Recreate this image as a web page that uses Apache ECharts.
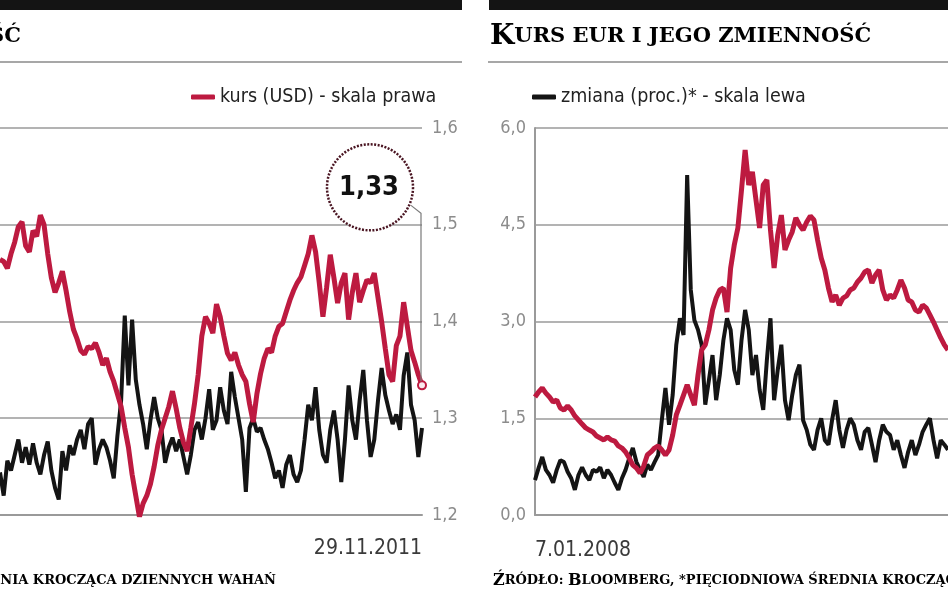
<!DOCTYPE html>
<html><head><meta charset="utf-8">
<script src="https://cdn.jsdelivr.net/npm/echarts@6/dist/echarts.min.js"></script>
<style>html,body{margin:0;padding:0;background:#fff}#c{width:948px;height:593px}</style>
</head><body><div id="c"></div>
<script>
// ---- data (weekly readings) ----
const leftEnd = [2011, 10, 29];   // 29.11.2011 (last category, left chart)
const rightStart = [2008, 0, 7];  // 7.01.2008 (first category, right chart)

// EUR/USD rate (right scale of the left chart)
const usdRate = [1.464,1.462,1.455,1.470,1.482,1.498,1.503,1.478,1.472,1.494,
 1.488,1.510,1.500,1.470,1.445,1.430,1.440,1.452,1.432,1.410,
 1.392,1.382,1.370,1.366,1.374,1.372,1.378,1.368,1.355,1.362,
 1.348,1.338,1.325,1.312,1.290,1.270,1.242,1.220,1.198,1.212,
 1.220,1.232,1.250,1.272,1.288,1.300,1.312,1.328,1.310,1.290,
 1.275,1.266,1.290,1.315,1.345,1.385,1.405,1.398,1.388,1.418,
 1.405,1.385,1.367,1.360,1.368,1.355,1.345,1.338,1.315,1.296,
 1.325,1.346,1.362,1.372,1.368,1.385,1.395,1.398,1.410,1.422,
 1.432,1.440,1.446,1.458,1.470,1.489,1.472,1.440,1.405,1.435,
 1.469,1.445,1.419,1.440,1.450,1.402,1.430,1.450,1.420,1.432,
 1.443,1.440,1.450,1.425,1.400,1.372,1.345,1.338,1.375,1.385,
 1.420,1.395,1.370,1.358,1.345,1.334];
// EUR/USD volatility (left scale of the left chart, not visible)
const usdVol = [0.22,0.10,0.28,0.23,0.31,0.39,0.27,0.35,0.26,0.37,
 0.27,0.21,0.31,0.38,0.23,0.14,0.08,0.33,0.23,0.36,
 0.31,0.39,0.44,0.34,0.47,0.50,0.26,0.34,0.39,0.35,
 0.28,0.19,0.41,0.59,1.03,0.67,1.01,0.70,0.57,0.47,
 0.34,0.49,0.61,0.50,0.44,0.27,0.35,0.40,0.33,0.39,
 0.30,0.21,0.31,0.44,0.48,0.39,0.50,0.65,0.44,0.49,
 0.66,0.54,0.47,0.74,0.61,0.50,0.39,0.12,0.45,0.50,
 0.43,0.45,0.39,0.34,0.27,0.19,0.23,0.14,0.26,0.31,
 0.21,0.17,0.23,0.39,0.57,0.49,0.66,0.44,0.31,0.27,
 0.44,0.54,0.39,0.17,0.39,0.67,0.49,0.39,0.59,0.75,
 0.49,0.30,0.39,0.59,0.76,0.62,0.54,0.47,0.52,0.44,
 0.72,0.84,0.57,0.49,0.30,0.45];
// EUR/PLN rate (right scale of the right chart, not visible)
const plnRate = [3.610,3.636,3.656,3.630,3.610,3.584,3.594,3.553,3.543,3.563,
 3.543,3.512,3.491,3.470,3.450,3.439,3.429,3.408,3.398,3.388,
 3.403,3.388,3.382,3.357,3.346,3.326,3.295,3.258,3.243,3.217,
 3.253,3.310,3.326,3.346,3.357,3.336,3.310,3.336,3.413,3.517,
 3.568,3.620,3.672,3.620,3.568,3.724,3.853,3.879,3.956,4.059,
 4.121,4.163,4.173,4.049,4.276,4.395,4.483,4.680,4.886,4.705,
 4.773,4.628,4.483,4.705,4.731,4.473,4.276,4.447,4.550,4.370,
 4.421,4.463,4.535,4.499,4.473,4.514,4.545,4.525,4.421,4.328,
 4.266,4.173,4.101,4.137,4.085,4.121,4.132,4.163,4.173,4.204,
 4.225,4.256,4.266,4.199,4.240,4.266,4.163,4.111,4.137,4.121,
 4.163,4.214,4.173,4.111,4.101,4.059,4.049,4.085,4.070,4.034,
 3.997,3.956,3.915,3.879,3.853];
// EUR volatility, % (left scale of the right chart)
const plnVol = [0.54,0.73,0.90,0.70,0.62,0.50,0.70,0.85,0.82,0.67,
 0.57,0.39,0.62,0.74,0.62,0.54,0.70,0.67,0.74,0.57,
 0.70,0.62,0.50,0.39,0.57,0.70,0.88,1.04,0.82,0.70,
 0.59,0.78,0.70,0.82,0.93,1.47,1.97,1.40,1.86,2.64,
 3.05,2.79,5.27,3.49,3.02,2.87,2.64,1.71,2.09,2.48,
 1.78,2.17,2.71,3.05,2.87,2.25,2.02,2.71,3.18,2.87,
 2.17,2.48,1.94,1.63,2.40,3.05,1.78,2.25,2.64,1.78,
 1.47,1.86,2.17,2.33,1.47,1.32,1.09,1.01,1.32,1.50,
 1.16,1.09,1.47,1.78,1.32,1.04,1.32,1.50,1.40,1.16,
 1.01,1.29,1.35,1.09,0.82,1.16,1.40,1.29,1.24,1.01,
 1.16,0.93,0.73,0.98,1.16,0.93,1.09,1.29,1.40,1.50,
 1.16,0.88,1.16,1.09,1.01];

const legendUsd = 'kurs (USD) - skala prawa';
const legendVol = 'zmiana (proc.)* - skala lewa';
const calloutText = '1,33';

// ---- categories ----
function fmtDate(d){ return d.getUTCDate() + '.' + String(d.getUTCMonth()+1).padStart(2,'0') + '.' + d.getUTCFullYear(); }
const DAY = 864e5;
const leftCats = usdRate.map((_, i) => fmtDate(new Date(Date.UTC(...leftEnd) - (usdRate.length-1-i)*7*DAY)));
const rightCats = plnVol.map((_, i) => fmtDate(new Date(Date.UTC(...rightStart) + i*7*DAY)));

// ---- styling ----
const NARROW = "'Liberation Sans Narrow','Arial Narrow','DejaVu Sans Condensed','Roboto Condensed',Roboto,sans-serif";
const SERIF = "'DejaVu Serif',serif";
const RED = '#bd1a40', BLACK = '#141414', GRID = '#9a9a9a';
const fmt1 = v => v.toFixed(1).replace('.', ',');

const chart = echarts.init(document.getElementById('c'), null, {renderer:'canvas', width:948, height:593});
const lastL = usdRate.length - 1;

const titleRich = {
  a:{fontFamily:SERIF, fontWeight:'bold', fontSize:28, color:'#111'},
  b:{fontFamily:SERIF, fontWeight:'bold', fontSize:21, color:'#111'}
};
const titleStr = '{a|K}{b|URS EUR I JEGO ZMIENNOŚĆ}';
const footRich = {
  A:{fontFamily:SERIF, fontWeight:'bold', fontSize:16, color:'#3a3a3a'},
  b:{fontFamily:SERIF, fontWeight:'bold', fontSize:13, color:'#3a3a3a'}
};
const footStr = '{A|Ź}{b|RÓDŁO: }{A|B}{b|LOOMBERG, *PIĘCIODNIOWA ŚREDNIA KROCZĄCA DZIENNYCH WAHAŃ}';

const baseGraphics = [
  {id:'barL', type:'rect', shape:{x:0, y:0, width:462, height:10}, style:{fill:'#141414'}},
  {id:'barR', type:'rect', shape:{x:489, y:0, width:459, height:10}, style:{fill:'#141414'}},
  {id:'sepL', type:'line', shape:{x1:0, y1:62, x2:462, y2:62}, style:{stroke:'#8a8a8a', lineWidth:1.5}},
  {id:'sepR', type:'line', shape:{x1:488, y1:62, x2:948, y2:62}, style:{stroke:'#8a8a8a', lineWidth:1.5}},
  {id:'titL', type:'text', x:21, y:37, style:{text:titleStr, rich:titleRich, align:'right', verticalAlign:'middle'}},
  {id:'titR', type:'text', x:490, y:37, style:{text:titleStr, rich:titleRich, align:'left', verticalAlign:'middle'}},
  {id:'footL', type:'text', x:276, y:581, style:{text:footStr, rich:footRich, align:'right', verticalAlign:'middle'}},
  {id:'footR', type:'text', x:493, y:581, style:{text:footStr, rich:footRich, align:'left', verticalAlign:'middle'}}
];

const option = {
  animation:false,
  backgroundColor:'#fff',
  grid:[{left:0, top:128, width:422, height:387},{left:535, top:128, width:418, height:387}],
  legend:[
    {data:[legendUsd], left:186, top:82, icon:'roundRect', itemWidth:24, itemHeight:5, itemGap:0, selectedMode:false,
     textStyle:{fontFamily:NARROW, fontSize:19.5, color:'#222'}},
    {data:[legendVol], left:527, top:82, icon:'roundRect', itemWidth:24, itemHeight:5, itemGap:0, selectedMode:false,
     textStyle:{fontFamily:NARROW, fontSize:19.5, color:'#222'}}
  ],
  xAxis:[
    {gridIndex:0, type:'category', data:leftCats, boundaryGap:false,
     axisLine:{lineStyle:{color:GRID, width:2}}, axisTick:{show:false}, splitLine:{show:false},
     axisLabel:{interval:(i)=> i===lastL, showMaxLabel:true, align:'right', margin:23, fontFamily:NARROW, fontSize:21, color:'#3a3a3a'}},
    {gridIndex:1, type:'category', data:rightCats, boundaryGap:false,
     axisLine:{lineStyle:{color:GRID, width:2}}, axisTick:{show:false}, splitLine:{show:false},
     axisLabel:{interval:(i)=> i===0, showMinLabel:true, showMaxLabel:false, align:'left', margin:25, fontFamily:NARROW, fontSize:21, color:'#3a3a3a'}}
  ],
  yAxis:[
    {gridIndex:0, type:'value', position:'right', min:1.2, max:1.6, interval:0.1,
     axisLine:{show:false}, axisTick:{show:false}, splitLine:{lineStyle:{color:GRID, width:1.5}},
     axisLabel:{formatter:fmt1, margin:10, fontFamily:NARROW, fontSize:18, color:'#8c8c8c'}},
    {gridIndex:0, type:'value', position:'left', min:0, max:2, show:false},
    {gridIndex:1, type:'value', position:'left', min:0, max:6, interval:1.5,
     axisLine:{show:true, lineStyle:{color:GRID, width:2}}, axisTick:{show:false}, splitLine:{lineStyle:{color:GRID, width:1.5}},
     axisLabel:{formatter:fmt1, margin:9, fontFamily:NARROW, fontSize:18, color:'#8c8c8c'}},
    {gridIndex:1, type:'value', position:'right', min:3, max:5, show:false}
  ],
  series:[
    {name:'zmiana USD', type:'line', xAxisIndex:0, yAxisIndex:1, data:usdVol, symbol:'none',
     lineStyle:{color:BLACK, width:4}, itemStyle:{color:BLACK}, z:2},
    {name:legendUsd, type:'line', xAxisIndex:0, yAxisIndex:0, symbol:'none', showAllSymbol:true,
     data:usdRate.map((v,i)=> i===lastL ? {value:v, symbol:'circle', symbolSize:8,
        itemStyle:{color:'#fbe9ee', borderColor:RED, borderWidth:2}} : v),
     lineStyle:{color:RED, width:5}, itemStyle:{color:RED}, z:3},
    {name:legendVol, type:'line', xAxisIndex:1, yAxisIndex:2, data:plnVol, symbol:'none',
     lineStyle:{color:BLACK, width:4}, itemStyle:{color:BLACK}, z:2},
    {name:'kurs EUR', type:'line', xAxisIndex:1, yAxisIndex:3, data:plnRate, symbol:'none',
     lineStyle:{color:RED, width:5}, itemStyle:{color:RED}, z:3}
  ],
  graphic: baseGraphics
};
chart.setOption(option);

// callout attached to the last EUR/USD point
const p = chart.convertToPixel({xAxisIndex:0, yAxisIndex:0}, [lastL, usdRate[lastL]]);
const cx = p[0] - 52, cy = p[1] - 198;
chart.setOption({graphic: baseGraphics.concat([
  {id:'lead', type:'polyline', z:90, shape:{points:[[cx+41, cy+18],[p[0]-1, cy+26],[p[0]-1, p[1]-4]]}, style:{stroke:'#7a7a7a', lineWidth:1.2, fill:null}},
  {id:'ring', type:'circle', z:91, shape:{cx:cx, cy:cy, r:43}, style:{fill:'#fff', stroke:'#4a1522', lineWidth:2.5, lineDash:[2,1.5]}},
  {id:'ringTxt', type:'text', z:92, x:cx-1, y:cy+1, style:{text:calloutText, align:'center', verticalAlign:'middle',
     font:"bold 27px 'Liberation Sans Narrow','Arial Narrow','DejaVu Sans Condensed',sans-serif", fill:'#111'}}
])});
</script>
</body></html>
